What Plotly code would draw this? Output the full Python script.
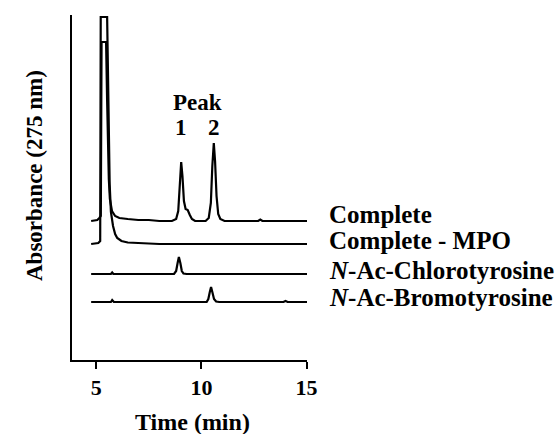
import plotly.graph_objects as go

# ---------------- data ----------------
trace_names = [
    "<b>Complete</b>",
    "<b>Complete - MPO</b>",
    "<b><i>N</i>-Ac-Chlorotyrosine</b>",
    "<b><i>N</i>-Ac-Bromotyrosine</b>",
]
# vertical offsets of the stacked chromatograms (absorbance, arbitrary units)
trace_offsets = [1.39, 1.16, 0.86, 0.58]

complete_time = [4.76, 5.05, 5.15, 5.22, 5.255, 5.47, 5.52, 5.57, 5.60, 5.65, 5.75, 5.90,
                 6.10, 6.50, 7.00, 7.50, 8.00, 8.60, 8.80, 8.90, 8.97, 9.04, 9.10, 9.17,
                 9.25, 9.35, 9.45, 9.55, 9.70, 10.20, 10.35, 10.45, 10.52, 10.59, 10.65,
                 10.72, 10.80, 10.90, 11.10, 12.70, 12.80, 12.90, 15.02]
complete_abs = [0.0, 0.01, 0.03, 0.05, 1.79, 1.79, 1.20, 0.60, 0.42, 0.22, 0.10, 0.05,
                0.03, 0.02, 0.01, 0.01, 0.0, 0.0, 0.02, 0.10, 0.35, 0.59, 0.45, 0.20,
                0.12, 0.11, 0.06, 0.02, 0.0, 0.0, 0.03, 0.18, 0.55, 0.78, 0.60,
                0.25, 0.07, 0.02, 0.0, 0.0, 0.015, 0.0, 0.0]

mpo_time = [4.76, 5.10, 5.19, 5.215, 5.52, 5.58, 5.64, 5.70, 5.80, 5.90, 6.00, 6.20,
            6.50, 7.00, 8.00, 15.02]
mpo_abs = [0.0, 0.01, 0.03, 2.27, 2.27, 1.20, 0.60, 0.32, 0.18, 0.10, 0.06, 0.03,
           0.015, 0.01, 0.0, 0.0]

chloro_time = [4.76, 5.70, 5.76, 5.82, 8.70, 8.80, 8.87, 8.93, 9.00, 9.07, 9.15, 9.30, 15.02]
chloro_abs = [0.0, 0.0, 0.015, 0.0, 0.0, 0.03, 0.11, 0.17, 0.11, 0.03, 0.005, 0.0, 0.0]

bromo_time = [4.76, 5.70, 5.76, 5.84, 10.25, 10.33, 10.40, 10.46, 10.52, 10.60, 10.70,
              10.85, 13.90, 14.00, 14.10, 15.02]
bromo_abs = [0.0, 0.0, 0.02, 0.0, 0.0, 0.03, 0.10, 0.15, 0.10, 0.03, 0.005,
             0.0, 0.0, 0.01, 0.0, 0.0]

series_time = [complete_time, mpo_time, chloro_time, bromo_time]
series_abs = [complete_abs, mpo_abs, chloro_abs, bromo_abs]

# text label positions (absorbance units) for each trace name
label_levels = [1.455, 1.195, 0.90, 0.63]

x_ticks = [5, 10, 15]
x_tick_labels = ["5", "10", "15"]
peak_labels = ["1", "2"]
peak_times = [9.05, 10.59]

FONT = "Liberation Serif, Times New Roman, serif"

fig = go.Figure()
for t, a, off in zip(series_time, series_abs, trace_offsets):
    fig.add_trace(go.Scatter(
        x=t, y=[v + off for v in a], mode="lines",
        line=dict(color="black", width=2.2), showlegend=False, hoverinfo="skip",
    ))

annotations = []
for name, lvl in zip(trace_names, label_levels):
    annotations.append(dict(
        text=name, xref="paper", x=1.085, xanchor="left",
        yref="y", y=lvl, yanchor="middle", showarrow=False,
        font=dict(family=FONT, size=25, color="black"),
    ))
annotations.append(dict(
    text="<b>Peak</b>", xref="x", x=(peak_times[0] + peak_times[1]) / 2, xanchor="center",
    yref="y", y=2.58, yanchor="middle", showarrow=False,
    font=dict(family=FONT, size=23, color="black"),
))
for lab, pt in zip(peak_labels, peak_times):
    annotations.append(dict(
        text="<b>" + lab + "</b>", xref="x", x=pt, xanchor="center",
        yref="y", y=2.33, yanchor="middle", showarrow=False,
        font=dict(family=FONT, size=23, color="black"),
    ))
annotations.append(dict(
    text="<b>Absorbance (275 nm)</b>", xref="paper", x=-0.162, xanchor="center",
    yref="paper", y=0.536, yanchor="middle", textangle=-90, showarrow=False,
    font=dict(family=FONT, size=23, color="black"),
))
annotations.append(dict(
    text="<b>Time (min)</b>", xref="paper", x=0.513, xanchor="center",
    yref="paper", y=-0.180, yanchor="middle", showarrow=False,
    font=dict(family=FONT, size=24, color="black"),
))

fig.update_layout(
    width=555, height=434,
    margin=dict(l=72, r=248, t=15, b=74),
    paper_bgcolor="white", plot_bgcolor="white",
    annotations=annotations,
    xaxis=dict(
        range=[3.85, 15.02], tickvals=x_ticks, ticktext=x_tick_labels,
        ticks="outside", ticklen=7, tickwidth=1.5, tickcolor="black",
        showline=True, linecolor="black", linewidth=2,
        showgrid=False, zeroline=False,
        tickfont=dict(family=FONT, size=22, color="black", weight="bold"),
    ),
    yaxis=dict(
        range=[0, 3.45], showticklabels=False, ticks="",
        showline=True, linecolor="black", linewidth=2,
        showgrid=False, zeroline=False,
    ),
)

fig.write_html("out.html", config={"displayModeBar": False},
               post_script="document.body.style.margin='0';")
